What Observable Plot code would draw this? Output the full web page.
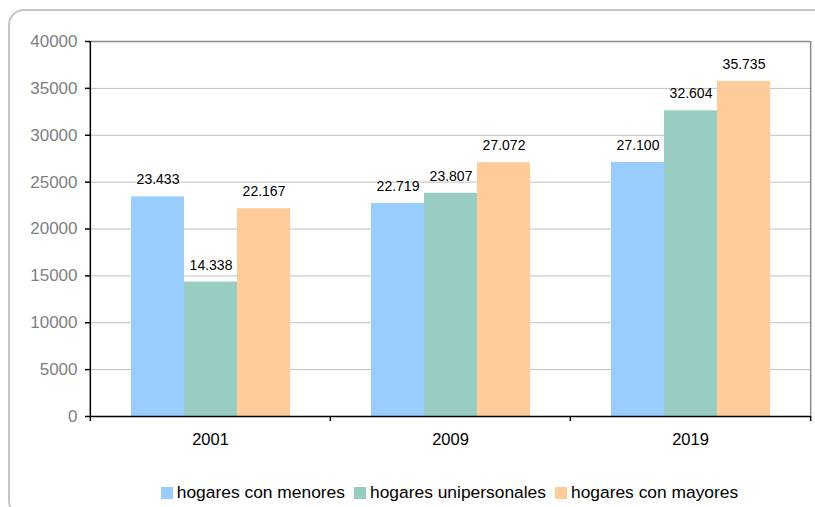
<!DOCTYPE html>
<html>
<head>
<meta charset="utf-8">
<script src="https://cdn.jsdelivr.net/npm/d3@7"></script>
<script src="https://cdn.jsdelivr.net/npm/@observablehq/plot@0.6"></script>
<style>
  html, body { margin: 0; padding: 0; width: 815px; height: 507px; overflow: hidden; background: #fff; font-family: "Liberation Sans", Arial, sans-serif; }
  #box { position: absolute; left: 8px; top: 9px; width: 840px; height: 508px; border: 2px solid #c4c4c4; border-radius: 16px; box-sizing: border-box; }
  #chart { position: absolute; left: 0; top: 0; }
  #legend { position: absolute; top: 482px; left: 89px; width: 721px; display: flex; justify-content: center; font-size: 17.4px; color: #000; white-space: nowrap; }
  .item { display: flex; align-items: center; margin: 0 4.5px; }
  .sw { width: 12px; height: 12px; margin-right: 4px; }
</style>
</head>
<body>
<div id="box"></div>
<div id="chart"></div>
<div id="legend"></div>
<script>
const years = ["2001", "2009", "2019"];
const series = ["hogares con menores", "hogares unipersonales", "hogares con mayores"];
const colors = ["#99ccff", "#99ccc3", "#ffcc99"];
const menores = [23433, 22719, 27100];
const unipersonales = [14338, 23807, 32604];
const mayores = [22167, 27072, 35735];
const yTicks = [0, 5000, 10000, 15000, 20000, 25000, 30000, 35000, 40000];

const values = [menores, unipersonales, mayores];
const data = [];
years.forEach((y, i) => series.forEach((s, j) => data.push({year: y, series: s, value: values[j][i]})));

const fmt = v => d3.format(",")(v).replace(/,/g, ".");

const W = 815, ML = 89, MR = 5;
const half = (W - ML - MR) / years.length / 2; // half facet width, to reach facet edges

const chart = Plot.plot({
  width: W,
  height: 450,
  marginLeft: ML,
  marginRight: MR,
  marginTop: 41,
  marginBottom: 34,
  style: {fontFamily: "'Liberation Sans', Arial, sans-serif", background: "transparent"},
  fx: {domain: years, padding: 0, label: null},
  x: {domain: series, paddingInner: 0, paddingOuter: 0.75, axis: null},
  y: {domain: [0, 40000], axis: null, label: null},
  color: {domain: series, range: colors},
  marks: [
    Plot.ruleY(yTicks.slice(1, -1), {stroke: "#c0c0c0", strokeWidth: 1, strokeOpacity: 1}),
    Plot.ruleY([40000], {stroke: "#8c8c8c", strokeWidth: 1.5}),
    Plot.barY(data, {fx: "year", x: "series", y: "value", fill: "series"}),
    Plot.text(data, {fx: "year", x: "series", y: "value", text: d => fmt(d.value), dy: -17, fontSize: 14, fill: "#000"}),
    Plot.ruleX(years.slice(-1), {fx: d => d, x: null, dx: half, y1: 0, y2: 40000, stroke: "#8c8c8c", strokeWidth: 1.5}),
    Plot.ruleY([0], {stroke: "#000", strokeWidth: 1.5}),
    Plot.ruleX(years, {fx: d => d, x: null, dx: -half, y1: 0, y2: 0, insetBottom: -5, stroke: "#000", strokeWidth: 1.5}),
    Plot.ruleX(years.slice(-1), {fx: d => d, x: null, dx: half, y1: 0, y2: 0, insetBottom: -5, stroke: "#000", strokeWidth: 1.5}),
    Plot.ruleX(years.slice(0, 1), {fx: d => d, x: null, dx: -half, y1: 0, y2: 40000, stroke: "#000", strokeWidth: 1.5}),
    Plot.axisY(yTicks, {anchor: "left", label: null, tickSize: 5, tickPadding: 8, tickFormat: d => String(d), fontSize: 17, fill: "#808080", stroke: "#000", strokeWidth: 1.5}),
    Plot.axisFx({anchor: "bottom", tickSize: 0, tickPadding: 17, fontSize: 16.5, fill: "#000", label: null})
  ]
});
document.getElementById("chart").appendChild(chart);

const legend = document.getElementById("legend");
series.forEach((s, i) => {
  const it = document.createElement("div");
  it.className = "item";
  const sw = document.createElement("div");
  sw.className = "sw";
  sw.style.background = colors[i];
  const t = document.createElement("span");
  t.textContent = s;
  it.appendChild(sw);
  it.appendChild(t);
  legend.appendChild(it);
});
</script>
</body>
</html>
